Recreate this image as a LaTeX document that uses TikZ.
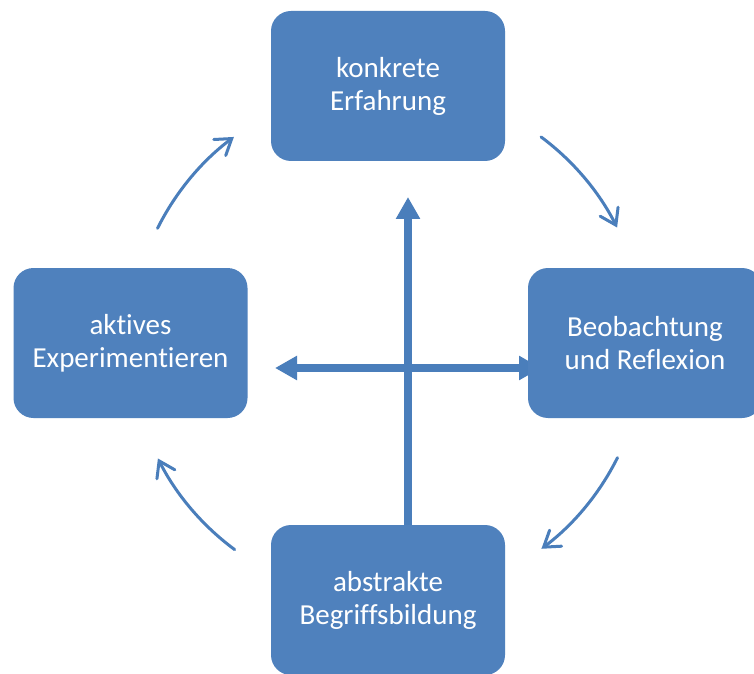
\documentclass[tikz,border=0pt]{standalone}
\usepackage{fontspec}
\setmainfont[Ligatures=NoCommon]{Carlito}
\usetikzlibrary{arrows.meta}
\definecolor{boxblue}{HTML}{4F81BD}
\definecolor{arrblue}{HTML}{4A7EBB}
\tikzset{
  phase/.style={draw=none, fill=boxblue, rounded corners=20pt, minimum width=234pt, minimum height=150pt,
    text=white, align=center, font=\fontsize{29}{33}\selectfont, inner sep=0pt},
  axis/.style={draw=arrblue, line width=8pt},
  axhead/.tip={Triangle[length=22pt,width=23pt]},
  cycle/.style={draw=arrblue, line width=3pt, line cap=round, -{Straight Barb[length=15pt,width=20pt,line cap=round]}}
}
\begin{document}
\begin{tikzpicture}[x=1pt,y=1pt]
\clip (0,0) rectangle (754,673);
\fill[white] (0,0) rectangle (754,673);
% centre of the cycle
\coordinate (c) at (387.5,330);
% axes (drawn under the boxes)
\coordinate (vbase) at (408,148);
\coordinate (vtip) at (408,476);
\coordinate (hl) at (275,305);
\coordinate (hr) at (541,305);
\draw[axis, -axhead] (vbase) -- (vtip);
\draw[axis, axhead-axhead] (hl) -- (hr);
% phases
\node[phase] (top) at (388,587) {konkrete\\Erfahrung};
\node[phase] (right) at (645,330) {Beobachtung\\und Reflexion};
\node[phase] (bottom) at (388,73) {abstrakte\\Begriffsbildung};
\node[phase] (left) at (130.5,330) {aktives\\Experimentieren};
% cycle arrows
\draw[cycle] (c) ++(153.5:257) arc[start angle=153.5, end angle=126.7, radius=257];
\draw[cycle] (c) ++(53.3:257) arc[start angle=53.3, end angle=26.7, radius=257];
\draw[cycle] (c) ++(-26.5:257) arc[start angle=-26.5, end angle=-53.2, radius=257];
\draw[cycle] (c) ++(-126.5:257) arc[start angle=-126.5, end angle=-153.3, radius=257];
\end{tikzpicture}
\end{document}
